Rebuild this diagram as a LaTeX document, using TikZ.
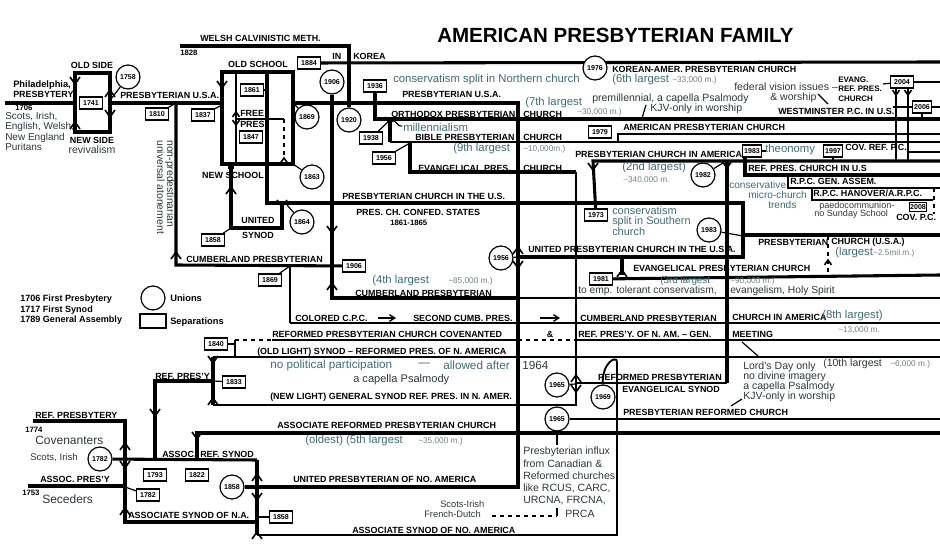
\documentclass[tikz,border=0pt]{standalone}
\usepackage{fontspec}
\setmainfont{Liberation Sans}
\usepackage{tikz}
\usetikzlibrary{arrows.meta}

\newcommand{\apx}{\textasciitilde}
\definecolor{noteteal}{RGB}{62,108,118}
\definecolor{notedark}{RGB}{45,55,58}
\definecolor{figgray}{RGB}{112,130,134}

\tikzset{
  heavyline/.style={line width=2.3pt},
  midline/.style={line width=1.4pt},
  slimline/.style={line width=0.9pt},
  union/.style={circle, draw, fill=white, line width=0.9pt, minimum size=18pt, inner sep=0pt, font=\fontsize{5.3}{6}\selectfont\bfseries},
  sepbox/.style={rectangle, draw, fill=white, line width=1pt, minimum width=17pt, minimum height=9pt, inner sep=0.6pt, font=\fontsize{5.3}{6}\selectfont\bfseries},
  lab/.style={anchor=west, inner sep=0pt, font=\fontsize{6.7}{8}\selectfont\bfseries},
  labsm/.style={anchor=west, inner sep=0pt, font=\fontsize{5.8}{7}\selectfont\bfseries},
  note/.style={anchor=west, inner sep=0pt, text=noteteal, font=\fontsize{8.5}{9.5}\selectfont},
  dnote/.style={anchor=west, inner sep=0pt, text=notedark, font=\fontsize{7.9}{9.2}\selectfont},
  fig/.style={anchor=west, inner sep=0pt, text=figgray, font=\fontsize{6.2}{7}\selectfont},
  chevdown/.pic={\draw[line width=1.2pt] (-5,-7) -- (0,0) -- (5,-7);},
  chevup/.pic={\draw[line width=1.2pt] (-5,7) -- (0,0) -- (5,7);},
}

\begin{document}
\begin{tikzpicture}[x=0.75pt,y=0.75pt,yscale=-1,xscale=1]
\useasboundingbox (0,0) rectangle (940,552);

%Shape: Circle (unions)
\node[union] (u1758) at (128,77) {1758};
\node[union] (u1906) at (332,82) {1906};
\node[union] (u1920) at (349,120) {1920};
\node[union] (u1869) at (307,117) {1869};
\node[union] (u1863) at (312,177) {1863};
\node[union] (u1864) at (302,222) {1864};
\node[union] (u1956) at (501,258) {1956};
\node[union] (u1982) at (703,175) {1982};
\node[union] (u1983) at (709,230) {1983};
\node[union] (u1965a) at (557,385) {1965};
\node[union] (u1969) at (603,397) {1969};
\node[union] (u1965b) at (557,419) {1965};
\node[union] (u1782) at (100,459) {1782};
\node[union] (u1858) at (232,487) {1858};

%Shape: Rectangle (separations)
\node[sepbox] (s1741) at (91,103) {1741};
\node[sepbox] (s1810) at (157,114) {1810};
\node[sepbox] (s1837) at (203,115) {1837};
\node[sepbox] (s1861) at (252,90) {1861};
\node[sepbox] (s1847) at (251,137) {1847};
\node[sepbox] (s1884) at (309,63) {1884};
\node[sepbox] (s1858a) at (213,240) {1858};
\node[sepbox] (s1869) at (270,280) {1869};
\node[sepbox] (s1906) at (354,266) {1906};
\node[sepbox] (s1936) at (375,86) {1936};
\node[sepbox] (s1938) at (371,138) {1938};
\node[sepbox] (s1956) at (384,158) {1956};
\node[sepbox] (s1979) at (600,132) {1979};
\node[sepbox] (s1973) at (596,215) {1973};
\node[sepbox] (s1981) at (601,279) {1981};
\node[sepbox, minimum width=14pt] (s1983) at (752,151) {1983};
\node[sepbox, minimum width=14pt] (s1997) at (833,151) {1997};
\node[sepbox] (s2004) at (902,82) {2004};
\node[sepbox, minimum width=14pt] (s2006) at (922,107) {2006};
\node[sepbox, minimum width=10pt, minimum height=7pt] (s2008) at (918,207) {2008};
\node[sepbox] (s1840) at (216,344) {1840};
\node[sepbox] (s1833) at (234,382) {1833};
\node[sepbox] (s1793) at (155,475) {1793};
\node[sepbox] (s1822) at (197,475) {1822};
\node[sepbox] (s1782) at (148,495) {1782};
\node[sepbox] (s1858b) at (281,517) {1858};

%Straight Lines: Philadelphia, old side / new side
\draw[heavyline] (5,103) -- (75,103);
\draw[heavyline] (75,73) rectangle (110,132);
\draw[heavyline] (110,103) -- (222,103);
\draw[slimline] (u1758) -- (111,99);
\draw[slimline] (s1810) -- (176,103);
\draw[slimline] (s1837) -- (222,105);

%Straight Lines: old school / new school
\draw[heavyline] (222,72) rectangle (293,164);
\draw[heavyline] (267,72) -- (267,203) -- (743,203) -- (743,257) -- (518,257);
\draw[heavyline] (743,235) -- (940,235);
\draw[slimline] (u1983) -- (743,236);
\draw[slimline] (s1861) -- (267,90);
\draw[slimline] (236,72) -- (236,164);
\draw[slimline] (236,119) -- (284,119);
\draw[slimline, dashed] (284,119) -- (284,158);
\draw[heavyline] (231,164) -- (231,228) -- (282,228) -- (282,203);
\draw[slimline] (s1858a) -- (231,228);
\draw[slimline] (u1864) -- (287,205);
\draw[slimline] (u1863) -- (293,164);
\draw[slimline] (u1869) -- (293,103);
\fill (228,164) rectangle (234,169);

%Straight Lines: Presbyterian U.S.A. and its joins
\draw[heavyline] (293,103) -- (518,103) -- (518,487) -- (u1858);
\draw[slimline] (u1956) -- (518,257);
\draw[heavyline] (180,46) -- (349,46) -- (u1920);
\draw[heavyline] (s1884) -- (940,62);
\node[union] (u1976) at (595,68) {1976};

%Straight Lines: Cumberland
\draw[heavyline] (176,103) -- (176,265) -- (s1906);
\draw[heavyline] (u1906) -- (332,298) -- (518,298);
\draw[midline] (518,298) -- (940,298);
\draw[slimline] (s1869) -- (290,266);
\draw[slimline] (290,265) -- (290,323);
\draw[midline] (290,323) -- (940,323);
\draw[line width=1pt, -{Straight Barb[length=4pt,width=5pt]}] (378,318) -- (396,318);
\draw[line width=1pt, -{Straight Barb[length=4pt,width=5pt]}] (540,318) -- (560,318);

%Straight Lines: Orthodox, Bible, Evangelical
\draw[heavyline] (s1936) -- (375,119) -- (940,119);
\draw[heavyline] (390,121) -- (390,142);
\draw[slimline] (390,142) -- (940,142);
\draw[slimline] (s1938) -- (389,121);
\draw[slimline] (392,121) .. controls (396,119) and (398,128) .. (402,126);
\draw[slimline] (618,142) -- (618,134) -- (940,134);
\draw[heavyline] (410,142) -- (410,172) -- (576,172);
\draw[slimline] (s1956) -- (410,143);
\draw[slimline] (576,172) -- (576,405) -- (213,405);
\draw[slimline] (u1965a) -- (576,384);
\draw[slimline] (576,383) -- (727,383);

%Straight Lines: Presbyterian Church in America
\draw[heavyline] (s1973) -- (593,161) -- (940,161);
\draw[heavyline] (727,161) -- (727,383);
\draw[slimline] (u1982) -- (723,163);
\draw[heavyline] (s1981) -- (940,275);
\draw[heavyline] (622,257) -- (622,275);
\draw[slimline, dashed] (828,236) -- (828,275);
\draw[slimline] (s1997) -- (833,161);
\draw[heavyline] (745,156) -- (745,175) -- (940,175);
\draw[midline] (907,152) -- (940,152);
\draw[midline] (788,175) -- (788,188) -- (940,188);
\draw[slimline] (812,188) -- (812,200) -- (933,200);
\draw[slimline, dashed] (934,188) -- (934,214);
\draw[slimline] (s2004) -- (940,82);
\draw[slimline] (883,84) -- (s2004);
\draw[midline] (s2004.south -| 896,0) -- (896,161);
\draw[midline] (s2004.south -| 908,0) -- (908,161);
\draw[slimline] (893,107) -- (s2006) -- (940,107);
\draw[slimline] (s2006) -- (922,119);
\draw[slimline] (646,105) -- (642,118);
\draw[slimline] (818,94) -- (828,104);

%Straight Lines: Reformed Presbyterian
\draw[slimline, dashed] (235,340) -- (272,340);
\draw[slimline] (272,340) -- (518,340);
\draw[slimline, dashed] (518,340) -- (577,340);
\draw[slimline] (577,340) -- (940,340);
\draw[slimline] (235,340) -- (235,357);
\draw[slimline] (s1840) -- (235,344);
\draw[slimline] (213,357) -- (940,357);
\draw[heavyline] (213,357) -- (213,405);
\draw[slimline] (742,342) -- (758,356);
\draw[slimline] (731,406) -- (742,399);
\draw[slimline] (u1965b) -- (940,419);
\draw[slimline] (u1965b) -- (557,445);
\draw[midline, dashed] (492,516) -- (557,516);
\draw[midline] (557,516) -- (557,508);

%Straight Lines: Covenanters and Seceders
\draw[heavyline] (33,421) -- (125,421) -- (125,522) -- (257,522);
\draw[heavyline] (28,486) -- (125,486);
\draw[heavyline] (u1782) -- (257,460);
\draw[heavyline] (257,460) -- (257,535);
\draw[heavyline] (155,460) -- (155,381) -- (213,381);
\draw[slimline] (s1833) -- (213,381);
\draw[heavyline] (197,460) -- (197,433) -- (940,433);
\draw[slimline] (s1782) -- (125,487);
\draw[slimline] (s1858b) -- (257,517);
\draw[midline] (257,535) -- (617,535) -- (617,362) .. controls (617,355) and (602,362) .. (u1969);

%Arrow heads on the lines
\pic at (75,84) {chevup};
\pic at (75,122) {chevdown};
\pic at (110,90) {chevdown};
\pic at (110,117) {chevup};
\pic at (222,88) {chevup};
\pic[scale=0.7] at (236,112) {chevdown};
\pic[scale=0.7] at (236,125) {chevup};
\pic[scale=0.7] at (284,158) {chevdown};
\pic at (231,187) {chevdown};
\pic at (282,207) {chevup};
\pic at (176,252) {chevdown};
\pic at (332,233) {chevup};
\pic at (332,283) {chevdown};
\pic at (518,247) {chevdown};
\pic at (518,268) {chevup};
\pic at (390,124) {chevup};
\pic at (593,170) {chevup};
\pic at (727,168) {chevup};
\pic[scale=0.7] at (896,95) {chevup};
\pic[scale=0.7] at (908,95) {chevup};
\pic at (622,270) {chevdown};
\pic[scale=0.7] at (828,260) {chevdown};
\pic at (576,375) {chevdown};
\pic at (576,392) {chevup};
\pic at (213,363) {chevup};
\pic at (213,398) {chevdown};
\pic at (155,416) {chevup};
\pic at (197,439) {chevup};
\pic at (125,443) {chevdown};
\pic at (125,468) {chevup};
\pic at (125,508) {chevdown};
\pic at (257,474) {chevdown};
\pic at (257,500) {chevup};
\pic at (257,532) {chevdown};

% Text Node: title
\node[anchor=west, inner sep=0pt, font=\fontsize{15.4}{18}\selectfont\bfseries] (title) at (437,35) {AMERICAN PRESBYTERIAN FAMILY};

% Text Node: church names
\node[lab] (tWelsh) at (200,38) {WELSH CALVINISTIC METH.};
\node[labsm] (t1828) at (180,53) {1828};
\node[lab] (tIn) at (332,56) {IN};
\node[lab] (tKorea) at (353,56) {KOREA};
\node[lab, anchor=center] (tOldSide) at (92,65) {OLD SIDE};
\node[lab, font=\fontsize{7}{8}\selectfont\bfseries] (tPhil) at (13,85) {Philadelphia,};
\node[lab] (tPhilP) at (13,94) {PRESBYTERY};
\node[labsm] (t1706) at (15,108) {1706};
\node[lab, anchor=center] (tNewSide) at (92,140) {NEW SIDE};
\node[lab] (tPCUSA1) at (120,95) {PRESBYTERIAN U.S.A.};
\node[lab, anchor=center] (tOldSchool) at (258,64) {OLD SCHOOL};
\node[lab] (tFree) at (240,113) {FREE};
\node[lab] (tPres) at (240,124) {PRES};
\node[lab, anchor=center] (tNewSchool) at (233,175) {NEW SCHOOL};
\node[lab, anchor=center] (tUnited) at (258,220) {UNITED};
\node[lab, anchor=center] (tSynod) at (258,235) {SYNOD};
\node[lab] (tCumb1) at (186,259) {CUMBERLAND PRESBYTERIAN};
\node[lab] (tPCUSA2) at (402,94) {PRESBYTERIAN U.S.A.};
\node[lab] (tOPC) at (391,114) {ORTHODOX PRESBYTERIAN};
\node[lab] (tOPCc) at (523,114) {CHURCH};
\node[lab] (tBPC) at (415,137) {BIBLE PRESBYTERIAN};
\node[lab] (tBPCc) at (523,137) {CHURCH};
\node[lab] (tEPCa) at (418,168) {EVANGELICAL PRES.};
\node[lab] (tEPCc) at (523,168) {CHURCH};
\node[lab] (tKAPC) at (612,69) {KOREAN-AMER. PRESBYTERIAN CHURCH};
\node[labsm, align=left, font=\fontsize{6}{7.2}\selectfont\bfseries] (tERPC) at (838,89) {EVANG.\\REF. PRES.\\CHURCH};
\node[lab] (tWPC) at (778,111) {WESTMINSTER P.C. IN U.S.};
\node[lab] (tAPC) at (623,127) {AMERICAN PRESBYTERIAN CHURCH};
\node[lab] (tPCA) at (575,154) {PRESBYTERIAN CHURCH IN AMERICA};
\node[lab] (tCRPC) at (845,147) {COV. REF. P.C.};
\node[lab] (tRPCUS) at (748,168) {REF. PRES. CHURCH IN U.S};
\node[lab] (tRPCGA) at (790,181) {R.P.C. GEN. ASSEM.};
\node[lab] (tRPCH) at (813,193) {R.P.C. HANOVER/A.R.P.C.};
\node[lab] (tCovPC) at (896,217) {COV. P.C.};
\node[lab] (tPCUS) at (342,196) {PRESBYTERIAN CHURCH IN THE U.S.};
\node[lab] (tPCCS) at (356,212) {PRES. CH. CONFED. STATES};
\node[labsm] (tPCCSy) at (390,223) {1861-1865};
\node[lab] (tUPCUSA) at (528,249) {UNITED PRESBYTERIAN CHURCH IN THE U.S.A.};
\node[lab] (tPCUSAa) at (758,242) {PRESBYTERIAN};
\node[lab] (tPCUSAb) at (831,242) {CHURCH (U.S.A.)};
\node[lab] (tEPC81) at (633,268) {EVANGELICAL PRESBYTERIAN CHURCH};
\node[lab] (tCumb2) at (355,293) {CUMBERLAND PRESBYTERIAN};
\node[lab] (tCCPC) at (295,318) {COLORED C.P.C.};
\node[lab] (tSCP) at (413,318) {SECOND CUMB. PRES.};
\node[lab] (tCPCA) at (580,318) {CUMBERLAND PRESBYTERIAN};
\node[lab] (tCPCAb) at (732,317) {CHURCH IN AMERICA};
\node[lab] (tRPCC) at (272,334) {REFORMED PRESBYTERIAN CHURCH COVENANTED};
\node[lab, anchor=center] (tAmp) at (550,334) {\&};
\node[lab] (tRPNA) at (578,334) {REF. PRES'Y. OF N. AM. -- GEN.};
\node[lab] (tRPNAb) at (732,334) {MEETING};
\node[lab] (tOldL) at (257,352) {(OLD LIGHT) SYNOD -- REFORMED PRES. OF N. AMERICA};
\node[lab] (tNewL) at (270,397) {(NEW LIGHT) GENERAL SYNOD REF. PRES. IN N. AMER.};
\node[lab] (tRefPy) at (155,376) {REF. PRES'Y};
\node[lab, anchor=east] (tRPES) at (722,377) {REFORMED PRESBYTERIAN};
\node[lab] (tRPESb) at (622,389) {EVANGELICAL SYNOD};
\node[lab] (tPRC) at (623,412) {PRESBYTERIAN REFORMED CHURCH};
\node[lab] (tARP) at (277,425) {ASSOCIATE REFORMED PRESBYTERIAN CHURCH};
\node[lab] (tRefPb) at (35,415) {REF. PRESBYTERY};
\node[labsm] (t1774) at (25,430) {1774};
\node[lab] (tARS) at (162,454) {ASSOC.};
\node[lab] (tARSb) at (200,454) {REF. SYNOD};
\node[lab] (tAP) at (40,479) {ASSOC. PRES'Y};
\node[labsm] (t1753) at (22,493) {1753};
\node[lab] (tUPNA) at (293,479) {UNITED PRESBYTERIAN OF NO. AMERICA};
\node[lab] (tASN) at (128,515) {ASSOCIATE SYNOD OF N.A.};
\node[lab] (tASNA) at (352,530) {ASSOCIATE SYNOD OF NO. AMERICA};

% Text Node: notes
\node[dnote, align=left, anchor=north west, font=\fontsize{7.5}{7.7}\selectfont] (tScots) at (5,112) {Scots, Irish,\\English, Welsh,\\New England\\Puritans};
\node[dnote, anchor=center] (tRevival) at (92,150) {revivalism};
\node[dnote, align=left, anchor=north west, rotate=-90, font=\fontsize{7.8}{7.6}\selectfont] (tNonPre) at (175,140) {non-predestinarian\\universal atonement};
\node[note] (tNorth) at (393,80) {conservatism split in Northern church};
\node[note] (t7th) at (525,103) {(7th largest};
\node[fig] (t7thm) at (577,112) {\apx30,000 m.)};
\node[note] (tMill) at (403,127) {millennialism};
\node[note] (t9th) at (453,149) {(9th largest};
\node[fig] (t9thm) at (523,149) {\apx10,000m.)};
\node[note] (t6th) at (612,80) {(6th largest};
\node[fig] (t6thm) at (672,80) {\apx33,000 m.)};
\node[dnote] (tPremil) at (592,99) {premillennial, a capella Psalmody};
\node[dnote] (tKJV1) at (650,109) {KJV-only in worship};
\node[dnote] (tFed) at (734,87) {federal vision issues --};
\node[dnote] (tWor) at (770,98) {\& worship};
\node[note] (t2nd) at (622,168) {(2nd largest)};
\node[fig] (t2ndm) at (623,180) {\apx340,000 m.};
\node[note, font=\fontsize{7.6}{8}\selectfont] (tMicroA) at (729,185) {conservative};
\node[note, font=\fontsize{7.6}{8}\selectfont] (tMicroB) at (748,195) {micro-church};
\node[note, font=\fontsize{7.6}{8}\selectfont] (tMicroC) at (768,205) {trends};
\node[note] (tTheo) at (765,150) {theonomy};
\draw[slimline] (762,151) -- (766,151);
\node[dnote, font=\fontsize{6.8}{7}\selectfont] (tPaedo) at (819,206) {paedocommunion-};
\node[dnote, font=\fontsize{6.8}{7}\selectfont] (tSunday) at (814,214) {no Sunday School};
\node[note, align=left, anchor=north west, font=\fontsize{8.2}{7.6}\selectfont] (tSouth) at (612,206) {conservatism\\split in Southern\\church};
\node[note] (tLargest) at (835,253) {(largest};
\node[fig] (tLargestm) at (873,253) {\apx2.5mil.m.)};
\node[note] (t4th) at (372,281) {(4th largest};
\node[fig] (t4thm) at (448,281) {\apx85,000 m.)};
\node[note, font=\fontsize{7.4}{8}\selectfont] (t3rd) at (660,281) {(3rd largest};
\node[fig] (t3rdm) at (730,281) {\apx90,000 m.)};
\node[dnote, font=\fontsize{7.7}{8}\selectfont] (tEmp) at (578,291) {to emp. tolerant conservatism,};
\node[dnote, font=\fontsize{7.7}{8}\selectfont] (tEvang) at (730,291) {evangelism, Holy Spirit};
\node[note] (t8th) at (822,316) {(8th largest)};
\node[fig] (t8thm) at (838,330) {\apx13,000 m.};
\node[note, font=\fontsize{8.8}{10}\selectfont] (tNoPol) at (270,365) {no political participation};
\node[note, font=\fontsize{8.8}{10}\selectfont] (tDash) at (418,365) {---};
\node[note, font=\fontsize{8.8}{10}\selectfont] (tAllow) at (443,365) {allowed after};
\node[dnote, font=\fontsize{8.8}{10}\selectfont] (t1964) at (522,365) {1964};
\node[dnote, font=\fontsize{8.3}{10}\selectfont] (tPsalm1) at (353,380) {a capella Psalmody};
\node[note] (t5th) at (305,441) {(oldest) (5th largest};
\node[fig] (t5thm) at (418,441) {\apx35,000 m.)};
\node[dnote] (t10th) at (823,364) {(10th largest};
\node[fig] (t10thm) at (890,364) {\apx6,000 m.)};
\node[dnote, align=left, anchor=north west, font=\fontsize{7.9}{7.4}\selectfont] (tLord) at (743,362) {Lord's Day only\\no divine imagery\\a capella Psalmody\\KJV-only in worship};
\node[dnote, align=left, anchor=north west, font=\fontsize{7.9}{9.15}\selectfont] (tInflux) at (523,447) {Presbyterian influx\\from Canadian \&\\Reformed churches\\like RCUS, CARC,\\URCNA, FRCNA,};
\node[dnote] (tPRCA) at (565,514) {PRCA};
\node[dnote, font=\fontsize{7}{8}\selectfont] (tScIr) at (440,504) {Scots-Irish};
\node[dnote, font=\fontsize{7}{8}\selectfont] (tFrDu) at (424,514) {French-Dutch};
\node[dnote, font=\fontsize{9}{10}\selectfont] (tCov) at (35,440) {Covenanters};
\node[dnote, font=\fontsize{7.2}{8}\selectfont] (tScots2) at (30,458) {Scots, Irish};
\node[dnote, font=\fontsize{9}{10}\selectfont] (tSec) at (42,499) {Seceders};

% Text Node: legend
\node[lab, align=left, anchor=north west, font=\fontsize{6.8}{7.9}\selectfont\bfseries] (tLeg) at (20,295) {1706 First Presbytery\\1717 First Synod\\1789 General Assembly};
\node[union] (legU) at (153,298) {};
\node[sepbox, minimum width=19.5pt, minimum height=10.5pt] (legS) at (153,321) {};
\node[lab, font=\fontsize{7}{8}\selectfont\bfseries] (tUnions) at (170,298) {Unions};
\node[lab, font=\fontsize{7}{8}\selectfont\bfseries] (tSeps) at (170,322) {Separations};

\end{tikzpicture}
\end{document}
